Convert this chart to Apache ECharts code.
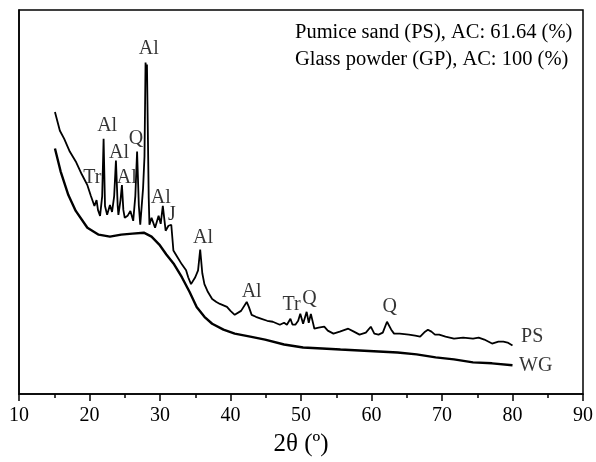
<!DOCTYPE html>
<html>
<head>
<meta charset="utf-8">
<script src="https://cdn.jsdelivr.net/npm/echarts@6/dist/echarts.min.js"></script>
<style>
html,body{margin:0;padding:0;background:#fff;}
#chart{width:596px;height:462px;}
</style>
</head>
<body>
<div id="chart"></div>
<script>
// 2θ (degrees) and relative intensity
const psAngle = [15.1,15.8,16.4,17.2,18.05,18.9,19.7,20.2,20.7,21.0,21.2,21.5,21.8,22.0,22.2,22.5,22.9,23.2,23.5,23.75,24.0,24.1,24.4,24.6,24.8,25.0,25.4,25.8,26.2,26.5,26.75,27.0,27.2,27.6,27.8,27.95,28.05,28.15,28.4,28.5,28.8,29.3,29.8,30.1,30.4,30.8,31.2,31.6,31.9,32.5,33.1,33.7,34.0,34.4,35.0,35.4,35.7,36.0,36.3,36.8,37.4,38.0,38.5,39.5,40.0,40.6,41.5,42.3,42.6,43.0,43.6,44.4,45.2,46.0,47.0,47.6,48.0,48.5,48.8,49.2,49.6,49.9,50.3,50.8,51.1,51.4,51.9,52.5,53.3,53.8,54.6,55.5,56.7,57.5,58.3,59.2,59.9,60.4,61.0,61.6,62.2,62.8,63.2,64.0,65.3,66.2,66.9,67.6,68.0,68.5,69.0,69.6,70.5,71.7,73.0,74.4,75.2,76.0,77.1,78.0,78.7,79.3,80.0];
const psIntensity = [285,266,258,245,235,222,211,200,190,196,186,180,200,258,190,181,191,184,200,236,190,181,196,211,186,178,180,185,175,200,245,190,171,208,240,335,326,333,198,171,178,168,180,172,190,165,170,171,145,138,131,125,118,111,118,125,146,122,111,103,96,93,91,88,84,80,84,93,88,80,78,76,74,73,70,72,70,76,70,70,74,81,71,83,72,81,66,67,68,64,61,63,66,63,60,62,68,61,60,62,73,65,61,61,60,59,58,63,65,63,60,60,58,56,57,56,57,55,51,53,53,52,49];
const wgAngle = [15.1,15.9,17.0,18.05,19.7,21.3,22.9,24.5,26.1,27.7,28.8,29.9,30.9,32.0,33.1,34.2,35.2,36.3,37.4,39.0,40.6,42.8,44.9,47.6,50.3,53.0,55.6,58.3,61.0,63.7,66.4,69.1,71.7,74.4,77.1,80.0];
const wgIntensity = [248,225,201,185,168,161,159,161,162,163,159,151,141,131,118,103,88,78,71,65,61,58,55,50,47,46,45,44,43,42,40,37,35,32,31,29];
// phase labels: text, 2θ position, height
const peakText  = ['Al','Al','Q','Al','Tr','Al','Al','J','Al','Al','Tr','Q','Q','PS','WG'];
const peakAngle = [28.4,22.5,26.6,24.2,20.4,25.3,30.1,31.7,36.1,43.0,48.65,51.2,62.6,82.8,83.3];
const peakLevel = [349,271,258,244,218,218,198,181,158,103,90,96,88,58,29];
const xTicks = [10,20,30,40,50,60,70,80,90];
const infoLines = ['Pumice sand (PS), AC: 61.64 (%)','Glass powder (GP), AC: 100 (%)'];

const serif = 'Liberation Serif, Times New Roman, serif';
const chart = echarts.init(document.getElementById('chart'));
const zip = (a,b) => a.map((v,i) => [v,b[i]]);
chart.setOption({
  animation:false,
  backgroundColor:'#fff',
  grid:{left:19,right:12,top:10,bottom:64,show:true,borderColor:'#000',borderWidth:1.5,backgroundColor:'transparent'},
  xAxis:{
    type:'value',min:xTicks[0],max:xTicks[xTicks.length-1],interval:10,
    name:'2θ (º)',nameLocation:'middle',nameGap:38,
    nameTextStyle:{fontFamily:serif,fontSize:25,color:'#000'},
    axisLine:{show:true,onZero:false,lineStyle:{color:'#000',width:1.5}},
    axisTick:{show:true,inside:false,length:7,lineStyle:{color:'#000',width:1.5}},
    minorTick:{show:true,splitNumber:2,length:4,lineStyle:{color:'#000',width:1.5}},
    axisLabel:{fontFamily:serif,fontSize:20,color:'#000',margin:12},
    splitLine:{show:false}
  },
  yAxis:{
    type:'value',min:0,max:388,
    axisLine:{show:true,lineStyle:{color:'#000',width:1.5}},
    axisTick:{show:false},axisLabel:{show:false},splitLine:{show:false}
  },
  graphic:infoLines.map((t,i)=>({
    type:'text',left:295,top:22+i*27,
    style:{text:t,fontFamily:serif,fontSize:20.5,fill:'#000'}
  })),
  series:[
    {type:'line',data:zip(psAngle,psIntensity),symbol:'none',lineStyle:{color:'#000',width:1.8},z:3},
    {type:'line',data:zip(wgAngle,wgIntensity),symbol:'none',lineStyle:{color:'#000',width:2.4},z:3},
    {type:'scatter',symbolSize:0,silent:true,
     data:peakText.map((t,i)=>({value:[peakAngle[i],peakLevel[i]],name:t})),
     label:{show:true,position:'inside',formatter:p=>p.name,fontFamily:serif,fontSize:20,color:'#000'},
     clip:false,z:4}
  ]
});
</script>
</body>
</html>
